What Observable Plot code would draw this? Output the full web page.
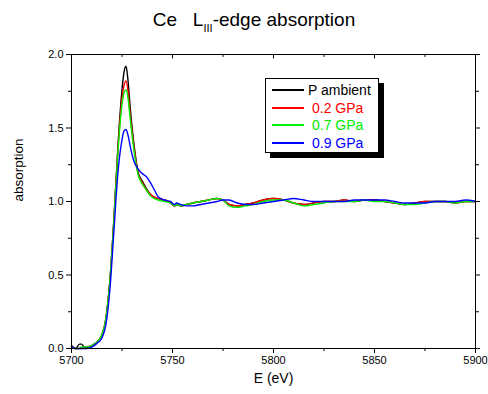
<!DOCTYPE html>
<html>
<head>
<meta charset="utf-8">
<script src="https://cdn.jsdelivr.net/npm/d3@7"></script>
<script src="https://cdn.jsdelivr.net/npm/@observablehq/plot@0.6"></script>
<style>
  body { margin: 0; background: #fff; font-family: "Liberation Sans", Arial, sans-serif; }
  #wrap { position: relative; width: 488px; height: 394px; }
  #title { position: absolute; left: 0; width: 508px; top: 9px; text-align: center; font-size: 19px; color: #000; }
  #title sub { font-size: 11px; vertical-align: -6px; }
  #legend { position: absolute; left: 265px; top: 78px; width: 112px; height: 73px; background: #fff; border: 1px solid #000; box-shadow: 5px 5px 0 #000; font-size: 14px; }
  .row { position: absolute; left: 6px; height: 16px; display: flex; align-items: center; }
  .row span.sw { display: inline-block; width: 32px; height: 2px; margin-right: 4px; }
</style>
</head>
<body>
<div id="wrap">
  <div id="title">Ce&nbsp;&nbsp;&nbsp;L<sub>III</sub>-edge absorption</div>
</div>
<script>
const energy = [5700,5702,5704,5705,5707,5710,5713,5715,5717,5719,5721,5723,5725,5726,5727,5728,5729,5731,5733,5735,5737,5739,5741,5743,5746,5749,5751,5752,5754,5757,5760,5764,5768,5772,5775,5778,5782,5786,5790,5795,5800,5805,5810,5815,5820,5825,5830,5835,5840,5845,5850,5855,5860,5865,5870,5875,5880,5885,5890,5895,5900];

const ambient = [0.02,0.00,0.03,0.03,0.00,0.02,0.05,0.09,0.20,0.46,0.88,1.38,1.76,1.88,1.92,1.82,1.65,1.38,1.20,1.14,1.09,1.05,1.03,1.02,1.01,0.99,0.97,0.98,0.97,0.98,0.99,1.00,1.01,1.02,1.01,0.98,0.97,0.98,0.99,1.01,1.02,1.01,0.99,0.98,0.99,1.00,1.00,1.01,1.00,1.01,1.01,1.00,0.99,0.98,0.99,1.00,1.00,1.00,0.99,1.00,1.00];

const gpa02 = [0.01,0.00,0.00,0.00,0.01,0.02,0.05,0.09,0.20,0.46,0.88,1.36,1.70,1.79,1.82,1.75,1.60,1.36,1.19,1.13,1.08,1.05,1.03,1.02,1.01,0.99,0.97,0.98,0.97,0.98,0.99,1.00,1.01,1.02,1.01,0.98,0.97,0.98,0.99,1.01,1.02,1.01,0.99,0.98,0.99,1.00,1.00,1.01,1.00,1.01,1.01,1.00,0.99,0.98,0.99,1.00,1.00,1.00,0.99,1.00,1.00];

const gpa07 = [0.01,0.00,0.00,0.01,0.01,0.02,0.05,0.09,0.20,0.46,0.87,1.34,1.66,1.74,1.76,1.70,1.57,1.34,1.18,1.12,1.08,1.04,1.02,1.01,1.00,0.99,0.97,0.98,0.97,0.98,0.99,1.00,1.01,1.02,1.01,0.97,0.96,0.97,0.98,1.00,1.01,1.01,0.99,0.97,0.98,0.99,1.00,1.00,1.00,1.01,1.00,1.00,0.99,0.98,0.98,0.99,1.00,1.00,0.99,1.00,1.00];

const gpa09 = [0.01,0.00,0.00,0.00,0.00,0.01,0.04,0.07,0.16,0.40,0.80,1.20,1.42,1.48,1.49,1.45,1.38,1.27,1.22,1.19,1.17,1.13,1.08,1.03,1.01,1.00,0.98,0.99,0.98,0.97,0.97,0.98,0.99,1.00,1.01,1.01,0.99,0.98,0.98,0.99,1.00,1.01,1.02,1.01,1.00,1.00,1.00,1.00,1.01,1.01,1.01,1.01,1.00,0.99,0.99,0.99,1.00,1.00,1.00,1.01,1.00];

const seriesNames = ["P ambient", "0.2 GPa", "0.7 GPa", "0.9 GPa"];
const seriesColors = ["#000000", "#ff0000", "#00ee00", "#0000ff"];
const seriesValues = [ambient, gpa02, gpa07, gpa09];

const xMajor = [5700, 5750, 5800, 5850, 5900];
const xMinor = [5725, 5775, 5825, 5875];
const yMajor = [0.0, 0.5, 1.0, 1.5, 2.0];
const yMinor = [0.25, 0.75, 1.25, 1.75];

const data = [];
seriesNames.forEach((name, i) => {
  energy.forEach((e, j) => data.push({series: name, E: e, A: seriesValues[i][j]}));
});

const blank = () => "";
const chart = Plot.plot({
  width: 488,
  height: 394,
  marginTop: 54,
  marginBottom: 46,
  marginLeft: 71,
  marginRight: 13,
  style: {fontFamily: "Liberation Sans, Arial, sans-serif", fontSize: "11px", color: "#000", background: "#fff"},
  x: {domain: [5700, 5900]},
  y: {domain: [0, 2]},
  color: {domain: seriesNames, range: seriesColors},
  marks: [
    Plot.line(data, {x: "E", y: "A", z: "series", stroke: "series", strokeWidth: 1.4, curve: "monotone-x"}),
    Plot.frame({stroke: "#000", strokeWidth: 1}),
    Plot.axisX({anchor: "bottom", ticks: xMajor, tickSize: 5, tickPadding: 3, tickFormat: d => String(d), label: null}),
    Plot.axisX({anchor: "bottom", ticks: xMinor, tickSize: 3, tickFormat: blank, label: null}),
    Plot.ruleX(xMajor, {x: d => d, y1: 2, y2: 1.97, stroke: "#000"}),
    Plot.ruleX(xMinor, {x: d => d, y1: 2, y2: 1.98, stroke: "#000"}),
    Plot.axisY({anchor: "left", ticks: yMajor, tickSize: 5, tickPadding: 3, tickFormat: d3.format(".1f"), label: null}),
    Plot.axisY({anchor: "left", ticks: yMinor, tickSize: 3, tickFormat: blank, label: null}),
    Plot.axisY({anchor: "right", ticks: yMajor, tickSize: 4, tickFormat: blank, label: null}),
    Plot.axisY({anchor: "right", ticks: yMinor, tickSize: 3, tickFormat: blank, label: null}),
    Plot.text(["E (eV)"], {frameAnchor: "bottom", dy: 34, fontSize: 14}),
    Plot.text(["absorption"], {frameAnchor: "left", dx: -53, rotate: -90, fontSize: 13.5})
  ]
});
const wrap = document.getElementById("wrap");
wrap.insertBefore(chart, wrap.firstChild);

const legend = document.createElement("div");
legend.id = "legend";
seriesNames.forEach((name, i) => {
  const row = document.createElement("div");
  row.className = "row";
  row.style.top = (3 + i * 17.5) + "px";
  const sw = document.createElement("span");
  sw.className = "sw";
  sw.style.background = seriesColors[i];
  const t = document.createElement("span");
  t.textContent = name;
  t.style.color = seriesColors[i];
  if (i > 0) t.style.marginLeft = "4px";
  row.appendChild(sw);
  row.appendChild(t);
  legend.appendChild(row);
});
wrap.appendChild(legend);
</script>
</body>
</html>
